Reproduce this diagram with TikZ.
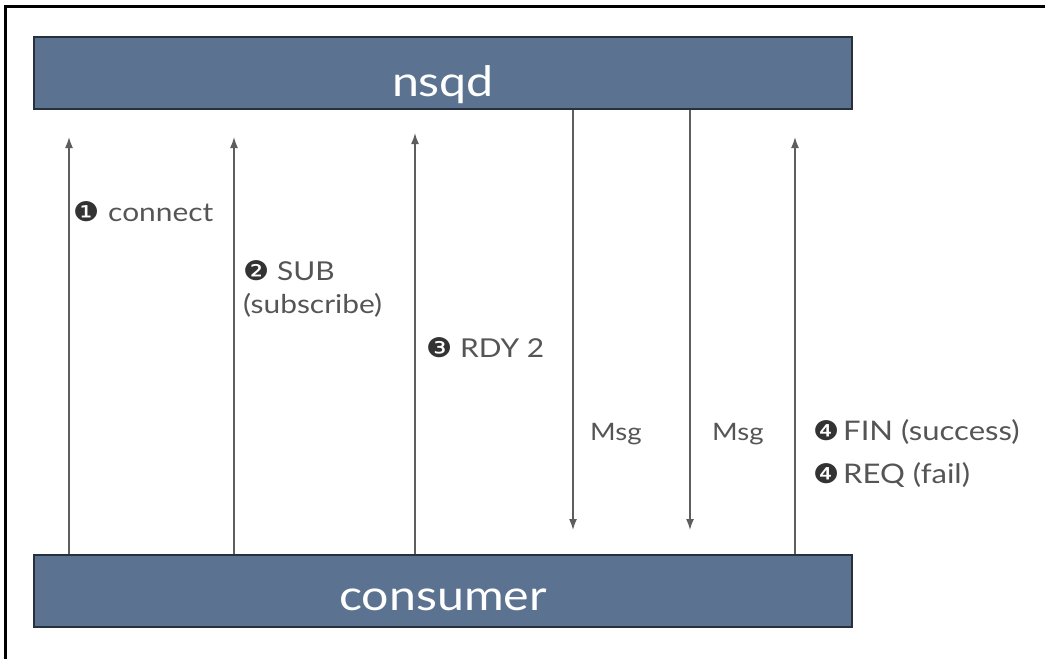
\documentclass[tikz,border=0pt]{standalone}
\usepackage{fontspec}
\setmainfont{Lato}[FakeStretch=1.15]
\newfontfamily\dv{DejaVu Sans}[FakeStretch=1.08]
\usetikzlibrary{arrows.meta}
\definecolor{boxfill}{HTML}{5B7391}
\definecolor{boxline}{HTML}{27313D}
\definecolor{arrgray}{HTML}{5E5E5E}
\definecolor{txtgray}{HTML}{555555}
\definecolor{numdark}{HTML}{333333}
\begin{document}
\begin{tikzpicture}[x=1pt,y=-1pt,
  bar/.style={draw=boxline,line width=2pt,fill=boxfill,minimum width=818pt,minimum height=72pt,inner sep=0pt,text=white,font=\fontsize{42}{46}\selectfont,text depth=0pt},
  arr/.style={draw=arrgray,line width=1.5pt,-{Latex[length=11pt,width=8pt]}},
  lbl/.style={text=txtgray,font=\fontsize{26}{30}\selectfont,anchor=base west,inner sep=0pt},
  num/.style={text=numdark,font=\dv\fontsize{27}{30}\selectfont,anchor=base west,inner sep=0pt}
]
\useasboundingbox (0,0) rectangle (1045,659);
\draw[line width=3pt] (5,659) -- (5,6) -- (1045,6);

\node[bar,text height=46pt] (nsqd) at (443,73) {nsqd};
\node[bar,text height=38pt] (consumer) at (443,591) {consumer};

% arrow ends
\coordinate (t1) at (69,137);
\coordinate (t2) at (234,137);
\coordinate (t3) at (415,133);
\coordinate (t4) at (573,530);
\coordinate (t5) at (690,530);
\coordinate (t6) at (795,137);

\draw[arr] (consumer.north -| t1) -- (t1);
\draw[arr] (consumer.north -| t2) -- (t2);
\draw[arr] (consumer.north -| t3) -- (t3);
\draw[arr] (nsqd.south -| t4) -- (t4);
\draw[arr] (nsqd.south -| t5) -- (t5);
\draw[arr] (consumer.north -| t6) -- (t6);

% labels
\node[num] (n1) at (73,221) {❶};
\node[lbl] (l1) at (108,221) {connect};
\node[num] (n2) at (243,280) {❷};
\node[lbl] (l2) at (277,280) {SUB};
\node[lbl] (l2b) at (243,313) {(subscribe)};
\node[num] (n3) at (426,357) {❸};
\node[lbl] (l3) at (460,357) {RDY 2};
\node[lbl,font=\fontsize{24}{28}\selectfont] (m1) at (590,440) {Msg};
\node[lbl,font=\fontsize{24}{28}\selectfont] (m2) at (712,440) {Msg};
\node[num] (n4a) at (813,440) {❹};
\node[lbl,font=\fontsize{27}{30}\selectfont] (l4a) at (843,440) {FIN (success)};
\node[num] (n4b) at (813,483) {❹};
\node[lbl,font=\fontsize{27}{30}\selectfont] (l4b) at (843,483) {REQ (fail)};
\end{tikzpicture}
\end{document}
